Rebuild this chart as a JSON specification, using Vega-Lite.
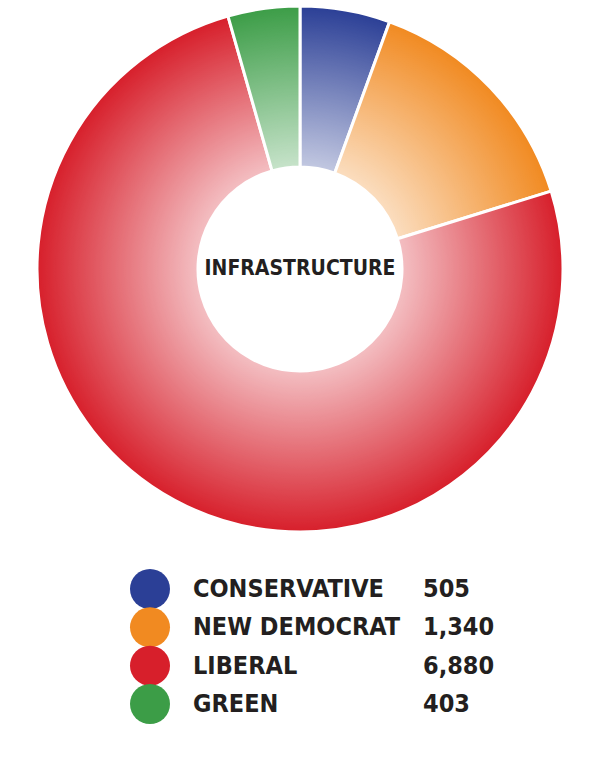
{
  "$schema": "https://vega.github.io/schema/vega-lite/v6.json",
  "padding": 0,
  "spacing": 0,
  "background": "white",
  "config": {"view": {"stroke": null}},
  "datasets": {
    "votes": [
      {"party": "CONSERVATIVE", "value": 505, "label": "505", "order": 1},
      {"party": "NEW DEMOCRAT", "value": 1340, "label": "1,340", "order": 2},
      {"party": "LIBERAL", "value": 6880, "label": "6,880", "order": 3},
      {"party": "GREEN", "value": 403, "label": "403", "order": 4}
    ]
  },
  "vconcat": [
    {
      "width": 600,
      "height": 536,
      "data": {"name": "votes"},
      "layer": [
        {
          "mark": {"type": "arc", "outerRadius": 263, "innerRadius": 102, "stroke": "white", "strokeWidth": 3},
          "encoding": {
            "theta": {"field": "value", "type": "quantitative", "stack": true},
            "order": {"field": "order", "type": "quantitative"},
            "color": {
              "field": "party", "type": "nominal", "legend": null,
              "scale": {"domain": ["CONSERVATIVE", "NEW DEMOCRAT", "LIBERAL", "GREEN"], "range": ["#2b3f96", "#f18a21", "#d71f2b", "#3c9d47"]}
            }
          }
        },
        {
          "transform": [{"aggregate": [{"op": "sum", "field": "value", "as": "total"}]}],
          "mark": {
            "type": "arc", "outerRadius": 263, "innerRadius": 102, "theta": 0, "theta2": 6.2832,
            "fill": {
              "gradient": "radial", "x1": 0.5, "y1": 0.5, "r1": 0, "x2": 0.5, "y2": 0.5, "r2": 0.5,
              "stops": [
                {"offset": 0.38, "color": "rgba(255,255,255,0.72)"},
                {"offset": 1, "color": "rgba(255,255,255,0)"}
              ]
            }
          },
          "encoding": {}
        },
        {
          "transform": [{"aggregate": [{"op": "sum", "field": "value", "as": "total"}]}],
          "mark": {"type": "text", "text": "INFRASTRUCTURE", "font": "DejaVu Sans Condensed, Liberation Sans Narrow, sans-serif", "fontWeight": "bold", "fontSize": 21, "color": "#231f20", "align": "center", "baseline": "middle"},
          "encoding": {}
        }
      ]
    },
    {
      "width": 600,
      "height": 238,
      "data": {"name": "votes"},
      "encoding": {
        "y": {"field": "party", "type": "nominal", "sort": ["CONSERVATIVE", "NEW DEMOCRAT", "LIBERAL", "GREEN"], "scale": {"type": "point", "range": [51, 166], "padding": 0}, "axis": null}
      },
      "layer": [
        {
          "mark": {"type": "point", "shape": "circle", "filled": true, "size": 1600, "opacity": 1},
          "encoding": {
            "x": {"datum": 150, "type": "quantitative", "scale": {"domain": [0, 600], "range": [0, 600]}, "axis": null},
            "color": {"field": "party", "type": "nominal", "legend": null, "scale": {"domain": ["CONSERVATIVE", "NEW DEMOCRAT", "LIBERAL", "GREEN"], "range": ["#2b3f96", "#f18a21", "#d71f2b", "#3c9d47"]}}
          }
        },
        {
          "mark": {"type": "text", "font": "DejaVu Sans Condensed, Liberation Sans Narrow, sans-serif", "fontWeight": "bold", "fontSize": 25, "color": "#231f20", "align": "left", "baseline": "middle"},
          "encoding": {
            "x": {"datum": 193, "type": "quantitative", "scale": {"domain": [0, 600], "range": [0, 600]}, "axis": null},
            "text": {"field": "party"}
          }
        },
        {
          "mark": {"type": "text", "font": "DejaVu Sans Condensed, Liberation Sans Narrow, sans-serif", "fontWeight": "bold", "fontSize": 25, "color": "#231f20", "align": "left", "baseline": "middle"},
          "encoding": {
            "x": {"datum": 423, "type": "quantitative", "scale": {"domain": [0, 600], "range": [0, 600]}, "axis": null},
            "text": {"field": "label"}
          }
        }
      ]
    }
  ]
}
